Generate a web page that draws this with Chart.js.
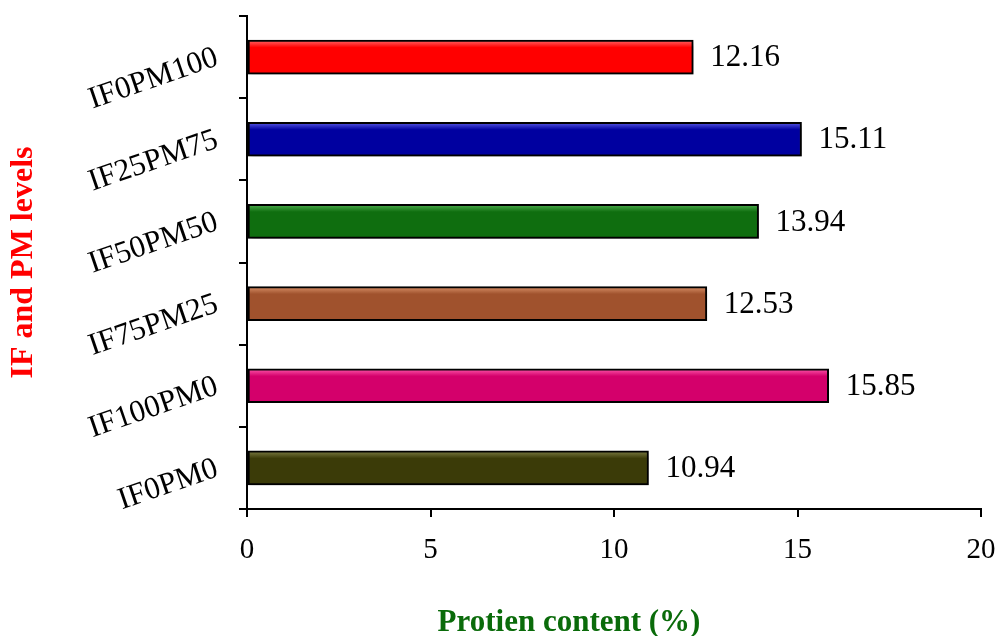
<!DOCTYPE html>
<html>
<head>
<meta charset="utf-8">
<script src="https://cdn.jsdelivr.net/npm/chart.js@4/dist/chart.umd.min.js"></script>
<style>
  html, body { margin: 0; padding: 0; background: #fff; }
  #wrap { width: 999px; height: 636px; }
</style>
</head>
<body>
<div id="wrap"><canvas id="myChart" width="999" height="636"></canvas></div>
<script>
// datos
let niveles = ["IF0PM100", "IF25PM75", "IF50PM50", "IF75PM25", "IF100PM0", "IF0PM0"];
let proteina = [12.16, 15.11, 13.94, 12.53, 15.85, 10.94];
let ticksX = [0, 5, 10, 15, 20];
let colores = ["#ff0000", "#0000a0", "#0f6e0f", "#a0522d", "#d4006b", "#3b3b08"];
let coloresClaros = ["#ff6a6a", "#5c5ce6", "#4fae4f", "#d9926a", "#ff5aad", "#7d7d45"];

let fuente = "'Liberation Serif', 'Times New Roman', serif";
let grosorBarra = 34;

//Relleno con degradado para el efecto bisel
function relleno(context) {
    let chart = context.chart;
    let i = context.dataIndex;
    if (!chart.chartArea) return colores[i];
    let yc = chart.scales.y.getPixelForValue(i);
    let g = chart.ctx.createLinearGradient(0, yc - grosorBarra / 2, 0, yc + grosorBarra / 2);
    g.addColorStop(0, coloresClaros[i]);
    g.addColorStop(0.22, colores[i]);
    g.addColorStop(0.85, colores[i]);
    g.addColorStop(1, colores[i]);
    return g;
}

//Sombra bajo las barras
const sombra = {
    id: "sombra",
    beforeDatasetsDraw(chart) {
        let c = chart.ctx;
        c.save();
        c.shadowColor = "rgba(0,0,0,0.35)";
        c.shadowBlur = 5;
        c.shadowOffsetX = 2;
        c.shadowOffsetY = 4;
    },
    afterDatasetsDraw(chart) {
        chart.ctx.restore();
    }
};

//Etiquetas de valor y titulo del eje X
const etiquetas = {
    id: "etiquetas",
    afterDraw(chart) {
        let c = chart.ctx;
        let meta = chart.getDatasetMeta(0);
        c.save();
        c.fillStyle = "#000";
        c.font = "31px " + fuente;
        c.textAlign = "left";
        c.textBaseline = "middle";
        meta.data.forEach(function (bar, i) {
            c.fillText(proteina[i].toFixed(2), bar.x + 17, bar.y + 1);
        });
        c.fillStyle = "#0a6b0a";
        c.font = "bold 31px " + fuente;
        c.textAlign = "center";
        c.textBaseline = "alphabetic";
        c.fillText("Protien content (%)", 569, 631);
        c.restore();
    }
};

const config = {
    type: "bar",
    data: {
        labels: niveles,
        datasets: [{
            data: proteina,
            backgroundColor: relleno,
            borderColor: "#000",
            borderWidth: 2,
            borderSkipped: false,
            barThickness: grosorBarra
        }]
    },
    options: {
        indexAxis: "y",
        responsive: false,
        animation: false,
        layout: { padding: { top: 16, right: 18, left: 0, bottom: 0 } },
        plugins: {
            legend: { display: false },
            tooltip: { enabled: false }
        },
        scales: {
            x: {
                min: 0,
                max: 20,
                afterBuildTicks: function (scale) {
                    scale.ticks = ticksX.map(function (v) { return { value: v }; });
                },
                afterFit: function (scale) {
                    scale.height = 636 - 509;
                    scale.paddingLeft = 0;
                    scale.paddingRight = 0;
                },
                grid: { drawOnChartArea: false, color: "#000", lineWidth: 2, tickLength: 8 },
                border: { color: "#000", width: 2 },
                ticks: { color: "#000", font: { family: fuente, size: 29 }, padding: 16 }
            },
            y: {
                afterFit: function (scale) {
                    scale.width = 247;
                    scale.paddingTop = 0;
                    scale.paddingBottom = 0;
                },
                grid: { drawOnChartArea: false, color: "#000", lineWidth: 2, tickLength: 8, offset: true },
                border: { color: "#000", width: 2 },
                ticks: { color: "#000", font: { family: fuente, size: 31 }, padding: 22, minRotation: 19, maxRotation: 19 },
                title: {
                    display: true,
                    text: "IF and PM levels",
                    color: "#ff0000",
                    font: { family: fuente, size: 32, weight: "bold" },
                    padding: { top: 5, bottom: 0 }
                }
            }
        }
    },
    plugins: [sombra, etiquetas]
};

const myChart = new Chart(document.getElementById("myChart"), config);
</script>
</body>
</html>
